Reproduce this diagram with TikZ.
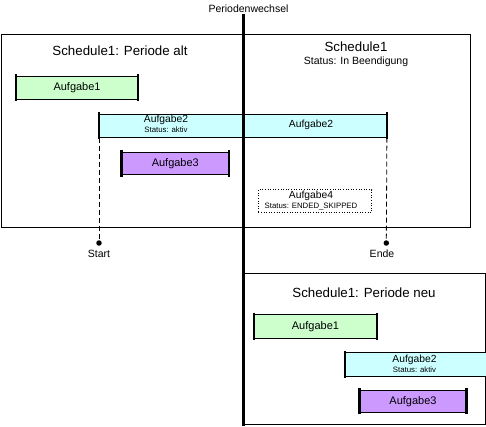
\documentclass[tikz,border=0pt]{standalone}
\usepackage{fontspec}
\setmainfont{Liberation Sans}
\definecolor{taskgreen}{HTML}{CCFFCC}
\definecolor{taskcyan}{HTML}{CCFFFF}
\definecolor{taskpurple}{HTML}{CC99FF}
\begin{document}
\begin{tikzpicture}[x=1pt,y=-1pt,
  frame/.style={draw, line width=0.9pt, inner sep=0pt, anchor=north west},
  task/.style={draw, line width=0.6pt, inner sep=0pt, anchor=north west, minimum height=23pt, font=\fontsize{11}{13}\selectfont},
  endbar/.style={line width=2.6pt},
  dashline/.style={line width=0.8pt, dash pattern=on 5pt off 3pt},
  dot/.style={circle, fill=black, inner sep=0pt, minimum size=5.5pt},
  title/.style={font=\fontsize{13.3}{15}\selectfont, inner sep=0pt},
  lbl/.style={font=\fontsize{10.5}{12}\selectfont, inner sep=0pt},
  small/.style={font=\fontsize{7.8}{9}\selectfont, inner sep=0pt},
  mid/.style={font=\fontsize{10.3}{12}\selectfont, inner sep=0pt}
]
\clip (0,0) rectangle (486,426);
\fill[white] (0,0) rectangle (486,426);

% old schedule frame
\node[frame, minimum width=469pt, minimum height=193.5pt] (old) at (0.5,33.5) {};
\node[title] (oldt) at (120,51) {Schedule1: Periode alt};
\node[title] (rt) at (356,47) {Schedule1};
\node[lbl] (rs) at (356,62) {Status: In Beendigung};

% old tasks
\node[task, fill=taskgreen, minimum width=121.5pt] (a1o) at (16,76) {Aufgabe1};
\node[task, fill=taskcyan, minimum width=287.3pt] (a2o) at (99,114) {};
\node[mid] (a2ot) at (166,120) {Aufgabe2};
\node[small] (a2os) at (166,129.5) {Status: aktiv};
\node[mid] (a2or) at (311,124.5) {Aufgabe2};
\node[task, fill=taskpurple, minimum width=106.6pt, minimum height=22.6pt] (a3o) at (121.7,151.7) {Aufgabe3};
\node[draw, line width=0.6pt, dotted, inner sep=0pt, anchor=north west, minimum width=113.3pt, minimum height=22.4pt] (a4o) at (258,189.3) {};
\node[mid] (a4t) at (311,195.5) {Aufgabe4};
\node[small] (a4s) at (311,206.5) {Status: ENDED\_SKIPPED};

\foreach \n in {a1o,a2o,a3o}{
  \draw[endbar] ([yshift=1.6pt]\n.north west) -- ([yshift=-1.6pt]\n.south west);
  \draw[endbar] ([yshift=1.6pt]\n.north east) -- ([yshift=-1.6pt]\n.south east);
}

% start / end markers
\node[dot] (sd) at (99,243) {};
\node[dot] (ed) at (386.3,243) {};
\draw[dashline] (a2o.south west) -- (sd.center);
\draw[dashline] (a2o.south east) -- (ed.center);
\node[lbl] (st) at (99,254) {Start};
\node[lbl] (et) at (382,254) {Ende};

% new schedule frame
\node[frame, minimum width=241.6pt, minimum height=150.7pt] (new) at (243,273.3) {};
\node[title] (newt) at (364,293) {Schedule1: Periode neu};
\node[task, fill=taskgreen, minimum width=122.3pt, minimum height=23.4pt] (a1n) at (254,314.3) {Aufgabe1};
\node[task, fill=taskcyan, minimum width=142pt, minimum height=23.4pt] (a2n) at (345,352.3) {};
\node[mid] (a2nt) at (414.5,359.5) {Aufgabe2};
\node[small] (a2ns) at (414.5,369.5) {Status: aktiv};
\node[task, fill=taskpurple, minimum width=106pt, minimum height=22pt] (a3n) at (359.7,390) {Aufgabe3};

\foreach \n in {a1n,a3n}{
  \draw[endbar] ([yshift=1.6pt]\n.north west) -- ([yshift=-1.6pt]\n.south west);
  \draw[endbar] ([yshift=1.6pt]\n.north east) -- ([yshift=-1.6pt]\n.south east);
}
\draw[endbar] ([yshift=1.6pt]a2n.north west) -- ([yshift=-1.6pt]a2n.south west);

% period change line
\node[lbl] (pw) at (248.5,9) {Periodenwechsel};
\coordinate (pwt) at (243,14);
\coordinate (pwb) at (243,426);
\draw[line width=3pt] (pwt) -- (pwb);
\end{tikzpicture}
\end{document}
